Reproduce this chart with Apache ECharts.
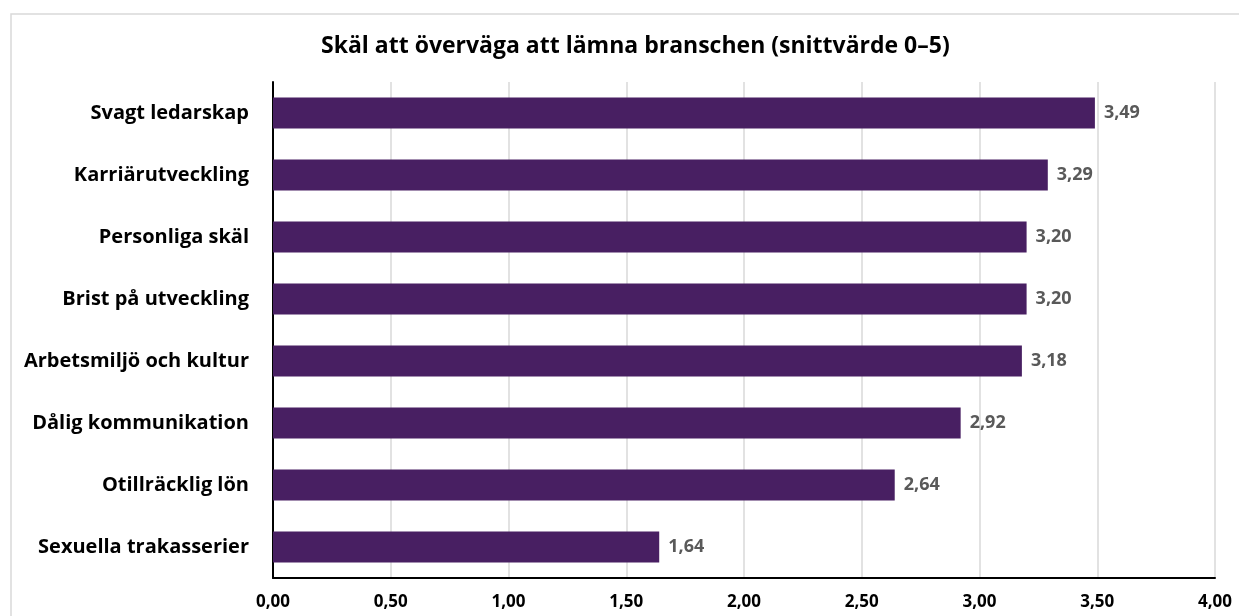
<!DOCTYPE html>
<html>
<head>
<meta charset="utf-8">
<script src="https://cdn.jsdelivr.net/npm/echarts@6/dist/echarts.min.js"></script>
<style>
  html, body { margin: 0; padding: 0; background: #fff; }
  #main { width: 1239px; height: 616px; }
</style>
</head>
<body>
<div id="main"></div>
<script>
// data, top to bottom as shown
var categories = ['Svagt ledarskap', 'Karriärutveckling', 'Personliga skäl', 'Brist på utveckling',
  'Arbetsmiljö och kultur', 'Dålig kommunikation', 'Otillräcklig lön', 'Sexuella trakasserier'];
var values = [3.49, 3.29, 3.20, 3.20, 3.18, 2.92, 2.64, 1.64];
var xTicks = [0, 0.5, 1, 1.5, 2, 2.5, 3, 3.5, 4];

var font = '"Open Sans", Lato, sans-serif';
function fmt(v) { return v.toFixed(2).replace('.', ','); }

var chart = echarts.init(document.getElementById('main'));
chart.setOption({
  animation: false,
  textStyle: { fontFamily: font },
  graphic: [{
    type: 'rect',
    shape: { x: 11, y: 14, width: 1260, height: 640 },
    style: { fill: 'none', stroke: '#d9d9d9', lineWidth: 1.5 },
    silent: true
  }],
  title: {
    text: 'Skäl att överväga att lämna branschen (snittvärde 0–5)',
    left: 316,
    top: 30,
    textStyle: { fontFamily: font, fontWeight: 'bold', fontSize: 23, color: '#000' }
  },
  grid: { left: 273, right: 24, top: 82, bottom: 38 },
  xAxis: {
    type: 'value',
    min: xTicks[0], max: xTicks[xTicks.length - 1], interval: xTicks[1] - xTicks[0],
    axisLine: { show: true, lineStyle: { color: '#000', width: 2 } },
    axisTick: { show: false },
    splitLine: { show: true, lineStyle: { color: '#d9d9d9', width: 1.5 } },
    axisLabel: {
      margin: 16,
      fontFamily: font, fontWeight: 'bold', fontSize: 17, color: '#000',
      formatter: function (v) { return fmt(v); }
    }
  },
  yAxis: {
    type: 'category',
    inverse: true,
    data: categories,
    axisLine: { show: true, lineStyle: { color: '#000', width: 2 } },
    axisTick: { show: false },
    axisLabel: { margin: 24, fontFamily: font, fontWeight: 'bold', fontSize: 20, color: '#000' }
  },
  series: [{
    type: 'bar',
    data: values,
    barWidth: '50%',
    itemStyle: { color: '#481f62' },
    label: {
      show: true, position: 'right', distance: 9,
      fontFamily: font, fontWeight: 'bold', fontSize: 18, color: '#595959',
      formatter: function (p) { return fmt(p.value); }
    }
  }]
});
</script>
</body>
</html>
